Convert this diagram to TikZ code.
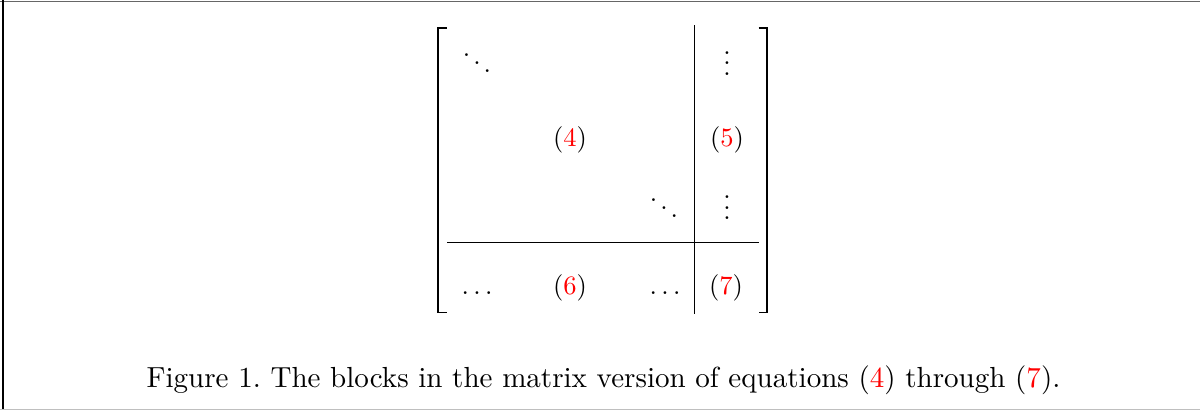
\documentclass[tikz,border=0pt]{standalone}
\usetikzlibrary{positioning}
\newcommand{\eqnum}[1]{(\textcolor{red}{#1})}
\begin{document}
\begin{tikzpicture}[x=0.377pt,y=0.377pt,
    entry/.style={inner sep=0pt,anchor=base},
    rule/.style={line width=0.4pt},
    bracket/.style={line width=0.75pt}]
      \useasboundingbox (0,0) rectangle (1200,411);
      % frame of the screenshot
      \draw[line width=0.7pt,black!60] (0,409.5) -- (1200,409.5);
      \draw[line width=0.8pt] (3.2,411) -- (3.2,1.2);
      \draw[line width=0.4pt,black!25] (0,1.2) -- (1200,1.2);
      % brackets
      \draw[bracket] (446.7,383.3) -- (438.3,383.3) -- (438.3,98.5) -- (446.7,98.5);
      \draw[bracket] (758.5,383.3) -- (766.5,383.3) -- (766.5,98.5) -- (758.5,98.5);
      % block rules
      \draw[rule] (694.5,386) -- (694.5,97);
      \draw[rule] (447,168.7) -- (759,168.7);
      % entries
      \node[entry] (dd1) at (477,335.5) {$\ddots$};
      \node[entry] (vd1) at (727,335.5) {$\smash{\vdots}$};
      \node[entry] (b4) at (570,264.3) {\eqnum{4}};
      \node[entry] (b5) at (727,264.3) {\eqnum{5}};
      \node[entry] (dd2) at (664,191.2) {$\ddots$};
      \node[entry] (vd2) at (727,191.2) {$\smash{\vdots}$};
      \node[entry] (ld1) at (477,117) {$\ldots$};
      \node[entry] (b6) at (570,117) {\eqnum{6}};
      \node[entry] (ld2) at (665,117) {$\ldots$};
      \node[entry] (b7) at (726,117) {\eqnum{7}};
      % caption
      \node[entry,font=\fontsize{10.95}{13}\selectfont] (cap) at (603.5,24) {Figure 1.\ The blocks in the matrix version of equations \eqnum{4} through \eqnum{7}.};
\end{tikzpicture}
\end{document}
